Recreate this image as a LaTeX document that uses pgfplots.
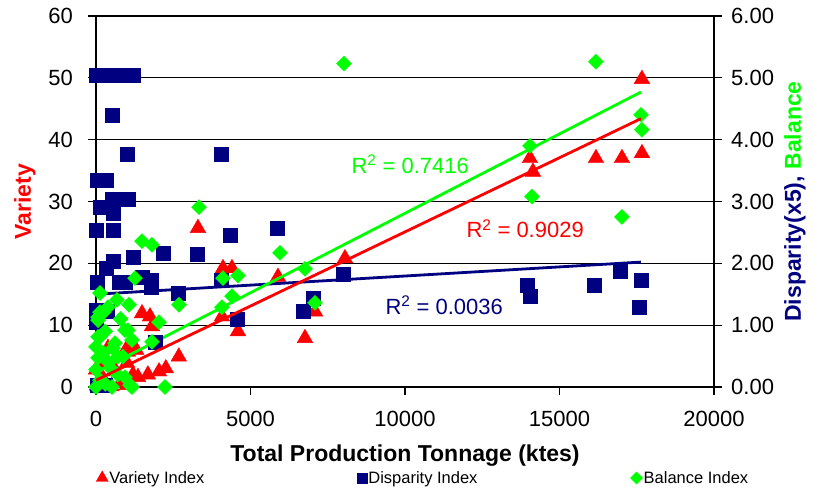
\documentclass[border=0pt]{standalone}
\usepackage{fontspec}
\setmainfont{Liberation Sans}
\usepackage{pgfplots}
\pgfplotsset{compat=1.18}

\definecolor{xlred}{RGB}{255,0,0}
\definecolor{xlnavy}{RGB}{0,0,128}
\definecolor{xlgreen}{RGB}{0,255,0}

\pgfplotsset{
  legmark/.style={legend image code/.code={\draw[##1] plot coordinates {(0pt,0pt)};}},
  base/.style={
    at={(0,0)}, anchor=south west,
    scale only axis, width=618pt, height=371pt,
    xmin=0, xmax=20000, clip=false,
    scaled x ticks=false, scaled y ticks=false,
    /pgf/number format/assume math mode=true,
    /pgf/number format/1000 sep={},
    tick align=outside, major tick length=8pt,
    tick style={black, line width=1.2pt},
    axis line style={black, line width=1.6pt},
    tick label style={font=\fontsize{22}{26}\selectfont, inner sep=2pt},
    label style={font=\bfseries\fontsize{23}{27}\selectfont},
  },
  tri/.style={only marks, mark=triangle*, xlred, mark size=9pt},
  sqr/.style={only marks, mark=square*, xlnavy, mark size=7pt},
  dia/.style={only marks, mark=square*, xlgreen, mark size=5.3pt, mark options={rotate=45}},
}

\begin{document}
\begin{tikzpicture}
\useasboundingbox (-96pt,-102pt) rectangle (718pt,387pt);

% left axis: variety
\begin{axis}[base,
  ymin=0, ymax=60,
  axis x line*=bottom, axis y line*=left,
  xtick={0,5000,...,20000}, ytick={0,10,...,60},
  ymajorgrids, grid style={black, line width=1.2pt},
  xticklabel style={yshift=-14pt},
  yticklabel style={xshift=-13pt},
  xlabel={Total Production Tonnage (ktes)},
  xlabel style={at={(axis description cs:0.5,0)}, anchor=base, yshift=-75pt},
  ylabel={\textcolor{xlred}{Variety}},
  ylabel style={at={(axis description cs:0,0.5)}, anchor=center, yshift=71pt},
  legend columns=3,
  legend style={draw=none, fill=none, inner sep=0pt,
    at={(axis description cs:0,0)}, anchor=west, yshift=-91pt, xshift=0pt,
    font=\fontsize{16.5}{19}\selectfont, nodes={inner sep=1pt},
    /tikz/every even column/.append style={column sep=152pt}},
]
\addlegendimage{only marks, mark=triangle*, xlred, mark size=7pt, legmark}
\addlegendentry{Variety Index}
\addlegendimage{only marks, mark=square*, xlnavy, mark size=5pt, legmark}
\addlegendentry{Disparity Index}
\addlegendimage{only marks, mark=square*, xlgreen, mark size=4.3pt, mark options={rotate=45}, legmark}
\addlegendentry{Balance Index}

\addplot[tri, forget plot] coordinates {
 (3300,25.7) (4110,19.2) (4400,19.2) (4077,11.4) (4595,9.0)
 (1489,11.9) (1747,11.4) (1812,9.8) (2680,4.9) (1680,2.0)
 (2040,2.5) (2260,3.0) (1197,2.0) (1359,1.6)
 (0,2.8) (194,3.9) (356,4.1) (388,6.3) (1003,6.3) (1003,3.9)
 (1035,5.7) (777,0.6) (1003,0.3) (30,0.2) (500,0.1) (250,1.2)
 (650,2.5) (1300,6.0)
 (5889,17.8) (6763,7.9) (7087,12.2) (8058,20.8)
 (14044,37.0) (14141,34.8) (16180,37.0) (17021,37.0) (17668,37.8) (17668,49.8)
};
\end{axis}

% right axis: disparity (x5) and balance
\begin{axis}[base,
  ymin=0, ymax=6,
  axis x line=none, axis y line*=right,
  ytick={0,1,...,6},
  yticklabel style={xshift=7pt, /pgf/number format/fixed,
    /pgf/number format/fixed zerofill, /pgf/number format/precision=2},
  ylabel={\textcolor{xlnavy}{Disparity(x5),} \textcolor{xlgreen}{Balance}},
  ylabel style={at={(axis description cs:1,0.5)}, anchor=center, yshift=-81pt},
]
\addplot[sqr] coordinates {
 (0,5.04) (200,5.04) (450,5.04) (700,5.04) (950,5.04) (1200,5.04)
 (518,4.40) (1003,3.77) (4045,3.77)
 (30,3.35) (320,3.35)
 (518,3.03) (841,3.03) (1035,3.03) (130,2.90) (550,2.81)
 (0,2.54) (550,2.54) (4336,2.46) (2168,2.17) (3268,2.15) (1197,2.10)
 (550,2.03) (324,1.92)
 (30,1.70) (745,1.70) (939,1.70) (1500,1.78) (1800,1.73) (1800,1.62)
 (2653,1.52) (4045,1.73)
 (0,1.25) (350,1.22) (0,1.05) (4563,1.10) (1900,0.73)
 (50,0.03) (300,0.03)
 (5857,2.57) (7993,1.83) (6699,1.23) (7022,1.44)
 (13947,1.65) (14044,1.47) (16115,1.65) (16956,1.88) (17636,1.73) (17571,1.29)
};
\addplot[dia] coordinates {
 (3333,2.91) (1489,2.36) (1812,2.30) (1262,1.76) (4110,1.76) (4595,1.80)
 (130,1.52) (680,1.41) (1068,1.33) (2686,1.33) (4400,1.47) (4077,1.29)
 (2039,1.05) (1812,0.73) (1035,0.92) (2233,0.00) (1165,0.00)
 (8025,5.23) (5954,2.17) (6763,1.91) (7087,1.36)
 (16180,5.26) (14044,3.90) (14109,3.08) (17021,2.75) (17636,4.40) (17668,4.16)
 (388,1.29) (65,1.13) (250,1.21) (939,0.92) (65,0.81) (0,0.65) (615,0.71)
 (1165,0.76) (65,0.47) (712,0.49) (0,0.28) (518,0.28) (939,0.16) (0,0.00)
 (518,0.00) (1100,0.03) (130,1.21) (65,1.08) (130,0.81) (550,0.63) (874,0.49)
 (130,0.11) (300,0.90) (250,0.55) (400,0.40) (700,0.20) (300,0.05) (800,1.10)
};
% trendlines (end points)
\addplot[xlnavy, line width=2.8pt] coordinates {(0,1.50) (17636,2.02)};
\addplot[xlgreen, line width=2.8pt] coordinates {(0,0.24) (17636,4.77)};
\end{axis}

% overlay: variety trendline and R^2 labels
\begin{axis}[base, ymin=0, ymax=60, hide axis]
\addplot[xlred, line width=2.8pt] coordinates {(0,1.1) (17636,43.4)};
\node[xlgreen, anchor=base west, font=\fontsize{22}{26}\selectfont] at (axis cs:8155,34.6) {R\textsuperscript{2} = 0.7416};
\node[xlred, anchor=base west, font=\fontsize{22}{26}\selectfont] at (axis cs:11876,24.1) {R\textsuperscript{2} = 0.9029};
\node[xlnavy, anchor=base west, font=\fontsize{22}{26}\selectfont] at (axis cs:9255,11.8) {R\textsuperscript{2} = 0.0036};
\end{axis}
\end{tikzpicture}
\end{document}
